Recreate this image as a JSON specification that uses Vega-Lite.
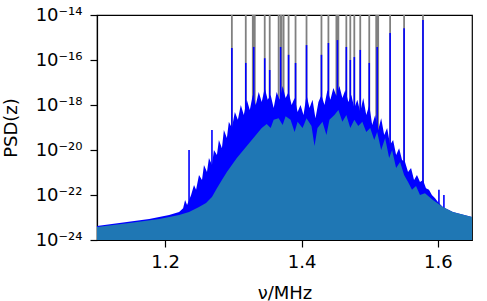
{
  "$schema": "https://vega.github.io/schema/vega-lite/v6.json",
  "width": 375,
  "height": 225,
  "autosize": {"type": "none"},
  "padding": {"left": 97, "top": 15, "right": 15, "bottom": 61},
  "config": {
    "font": "DejaVu Sans",
    "view": {"stroke": "#000000", "strokeWidth": 1.2},
    "axis": {"grid": false, "domainColor": "#000000", "tickColor": "#000000", "labelColor": "#000000", "titleColor": "#000000", "labelFont": "DejaVu Sans", "titleFont": "DejaVu Sans", "labelFontSize": 18, "titleFontSize": 18, "titleFontWeight": "normal", "tickSize": 7, "tickWidth": 1.2, "domainWidth": 1.2}
  },
  "datasets": {
    "gspikes": [
      {"nu": 1.2978, "psd": 1e-14}, {"nu": 1.3182, "psd": 1e-14}, {"nu": 1.3285, "psd": 1e-14}, {"nu": 1.3299, "psd": 1e-14}, {"nu": 1.3314, "psd": 1e-14}, {"nu": 1.3460, "psd": 1e-14}, {"nu": 1.3533, "psd": 1e-14}, {"nu": 1.3664, "psd": 1e-14}, {"nu": 1.3693, "psd": 1e-14}, {"nu": 1.3708, "psd": 1e-14}, {"nu": 1.3737, "psd": 1e-14}, {"nu": 1.3810, "psd": 1e-14}, {"nu": 1.3912, "psd": 1e-14}, {"nu": 1.4073, "psd": 1e-14}, {"nu": 1.4292, "psd": 1e-14}, {"nu": 1.4394, "psd": 1e-14}, {"nu": 1.4511, "psd": 1e-14}, {"nu": 1.4526, "psd": 1e-14}, {"nu": 1.4540, "psd": 1e-14}, {"nu": 1.4657, "psd": 1e-14}, {"nu": 1.4715, "psd": 1e-14}, {"nu": 1.4774, "psd": 1e-14}, {"nu": 1.4861, "psd": 1e-14}, {"nu": 1.4993, "psd": 1e-14}, {"nu": 1.5095, "psd": 1e-14}, {"nu": 1.5109, "psd": 1e-14}, {"nu": 1.5124, "psd": 1e-14}, {"nu": 1.5299, "psd": 1e-14}, {"nu": 1.5504, "psd": 1e-14}, {"nu": 1.5781, "psd": 1e-14}
    ],
    "bspikes": [
      {"nu": 1.2350, "psd": 1e-20}, {"nu": 1.2686, "psd": 7.7e-20}, {"nu": 1.2978, "psd": 3.4e-16}, {"nu": 1.3182, "psd": 7.4e-17}, {"nu": 1.3299, "psd": 3.8e-16}, {"nu": 1.3460, "psd": 1.2e-16}, {"nu": 1.3533, "psd": 3.6e-17}, {"nu": 1.3693, "psd": 3.8e-16}, {"nu": 1.3810, "psd": 1.7e-16}, {"nu": 1.3912, "psd": 7.4e-17}, {"nu": 1.4073, "psd": 4.6e-16}, {"nu": 1.4292, "psd": 1.7e-16}, {"nu": 1.4394, "psd": 5.7e-16}, {"nu": 1.4526, "psd": 7.7e-16}, {"nu": 1.4657, "psd": 3.8e-16}, {"nu": 1.4715, "psd": 1e-16}, {"nu": 1.4774, "psd": 1.35e-16}, {"nu": 1.4861, "psd": 2.8e-16}, {"nu": 1.4993, "psd": 7.4e-17}, {"nu": 1.5109, "psd": 3.8e-16}, {"nu": 1.5299, "psd": 1.6e-15}, {"nu": 1.5504, "psd": 2.6e-15}, {"nu": 1.5781, "psd": 6e-15}, {"nu": 1.6015, "psd": 1.7e-22}, {"nu": 1.6088, "psd": 1e-22}
    ],
    "noise": [
      {"nu": 1.100, "psd": 4.2e-24}, {"nu": 1.1766, "psd": 8.6e-24}, {"nu": 1.2058, "psd": 1.3e-23}, {"nu": 1.2204, "psd": 1.75e-23},
      {"nu": 1.2263, "psd": 2.6e-23}, {"nu": 1.2292, "psd": 6.0e-23}, {"nu": 1.2321, "psd": 3.6e-23}, {"nu": 1.2380, "psd": 1.0e-22}, {"nu": 1.2423, "psd": 2.8e-22}, {"nu": 1.2453, "psd": 1.7e-22},
      {"nu": 1.2496, "psd": 7.7e-22}, {"nu": 1.2540, "psd": 4.6e-22}, {"nu": 1.2569, "psd": 2.15e-21}, {"nu": 1.2613, "psd": 1.05e-21}, {"nu": 1.2642, "psd": 4.4e-21}, {"nu": 1.2686, "psd": 2.15e-21},
      {"nu": 1.2715, "psd": 1.0e-20}, {"nu": 1.2759, "psd": 6.0e-21}, {"nu": 1.2788, "psd": 2.8e-20}, {"nu": 1.2832, "psd": 1.2e-20}, {"nu": 1.2861, "psd": 7.7e-20}, {"nu": 1.2905, "psd": 3.4e-20},
      {"nu": 1.2934, "psd": 1.8e-19}, {"nu": 1.2978, "psd": 9.5e-20}, {"nu": 1.3022, "psd": 4.9e-19}, {"nu": 1.3066, "psd": 2.2e-19}, {"nu": 1.3109, "psd": 1.0e-18}, {"nu": 1.3153, "psd": 3.6e-19},
      {"nu": 1.3197, "psd": 1.7e-18}, {"nu": 1.3241, "psd": 6.0e-19}, {"nu": 1.3285, "psd": 2.8e-18}, {"nu": 1.3328, "psd": 1.0e-18}, {"nu": 1.3372, "psd": 3.8e-18}, {"nu": 1.3416, "psd": 1.36e-18},
      {"nu": 1.3460, "psd": 5.7e-18}, {"nu": 1.3504, "psd": 1.7e-18}, {"nu": 1.3547, "psd": 2.8e-18}, {"nu": 1.3591, "psd": 7.4e-19}, {"nu": 1.3635, "psd": 3.8e-18}, {"nu": 1.3679, "psd": 1.7e-18},
      {"nu": 1.3723, "psd": 7.0e-18}, {"nu": 1.3766, "psd": 2.05e-18}, {"nu": 1.3810, "psd": 3.8e-18}, {"nu": 1.3854, "psd": 1.0e-18}, {"nu": 1.3898, "psd": 2.05e-18}, {"nu": 1.3942, "psd": 4.9e-19},
      {"nu": 1.3985, "psd": 1.0e-18}, {"nu": 1.4029, "psd": 3.6e-19}, {"nu": 1.4073, "psd": 2.8e-18}, {"nu": 1.4117, "psd": 7.4e-19}, {"nu": 1.4161, "psd": 1.7e-18}, {"nu": 1.4204, "psd": 2.6e-19},
      {"nu": 1.4248, "psd": 1.36e-18}, {"nu": 1.4292, "psd": 2.8e-18}, {"nu": 1.4336, "psd": 1.0e-18}, {"nu": 1.4380, "psd": 4.6e-18}, {"nu": 1.4423, "psd": 1.7e-18}, {"nu": 1.4467, "psd": 5.7e-18},
      {"nu": 1.4511, "psd": 2.5e-18}, {"nu": 1.4555, "psd": 7.0e-18}, {"nu": 1.4599, "psd": 2.05e-18}, {"nu": 1.4642, "psd": 4.6e-18}, {"nu": 1.4686, "psd": 1.36e-18}, {"nu": 1.4730, "psd": 2.8e-18},
      {"nu": 1.4774, "psd": 7.4e-19}, {"nu": 1.4818, "psd": 1.7e-18}, {"nu": 1.4861, "psd": 4.9e-19}, {"nu": 1.4905, "psd": 2.05e-18}, {"nu": 1.4949, "psd": 3.6e-19}, {"nu": 1.4993, "psd": 1.0e-18},
      {"nu": 1.5036, "psd": 1.3e-19}, {"nu": 1.5080, "psd": 3.6e-19}, {"nu": 1.5124, "psd": 7.7e-20}, {"nu": 1.5168, "psd": 2.6e-19}, {"nu": 1.5212, "psd": 4.6e-20}, {"nu": 1.5255, "psd": 9.5e-20},
      {"nu": 1.5299, "psd": 1.7e-20}, {"nu": 1.5343, "psd": 2.8e-20}, {"nu": 1.5387, "psd": 6.0e-21}, {"nu": 1.5431, "psd": 1.2e-20}, {"nu": 1.5474, "psd": 3.6e-21}, {"nu": 1.5518, "psd": 2.9e-21},
      {"nu": 1.5562, "psd": 1.05e-21}, {"nu": 1.5606, "psd": 1.6e-21}, {"nu": 1.5650, "psd": 4.6e-22}, {"nu": 1.5693, "psd": 7.7e-22}, {"nu": 1.5737, "psd": 3.8e-22}, {"nu": 1.5781, "psd": 4.6e-22},
      {"nu": 1.5825, "psd": 2.0e-22}, {"nu": 1.5869, "psd": 1.7e-22}, {"nu": 1.5912, "psd": 1.0e-22}, {"nu": 1.5956, "psd": 7.4e-23}, {"nu": 1.6000, "psd": 4.9e-23}, {"nu": 1.6073, "psd": 2.9e-23},
      {"nu": 1.6219, "psd": 1.75e-23}, {"nu": 1.65, "psd": 1.05e-23}
    ],
    "fill": [
      {"nu": 1.100, "psd": 3.8e-24}, {"nu": 1.1474, "psd": 5.7e-24}, {"nu": 1.1912, "psd": 8.6e-24}, {"nu": 1.2204, "psd": 1.3e-23}, {"nu": 1.2350, "psd": 1.75e-23}, {"nu": 1.2496, "psd": 2.9e-23},
      {"nu": 1.2599, "psd": 4.4e-23}, {"nu": 1.2686, "psd": 8.1e-23}, {"nu": 1.2759, "psd": 2.0e-22}, {"nu": 1.2832, "psd": 4.6e-22}, {"nu": 1.2905, "psd": 1.05e-21}, {"nu": 1.2978, "psd": 2.15e-21},
      {"nu": 1.3051, "psd": 4.4e-21}, {"nu": 1.3124, "psd": 8.1e-21}, {"nu": 1.3197, "psd": 1.5e-20}, {"nu": 1.3270, "psd": 2.8e-20}, {"nu": 1.3343, "psd": 5.1e-20}, {"nu": 1.3416, "psd": 9.5e-20},
      {"nu": 1.3489, "psd": 1.43e-19}, {"nu": 1.3547, "psd": 9.5e-20}, {"nu": 1.3591, "psd": 2.2e-19}, {"nu": 1.3664, "psd": 2.6e-19}, {"nu": 1.3723, "psd": 1.3e-19}, {"nu": 1.3766, "psd": 3.2e-19},
      {"nu": 1.3839, "psd": 2.2e-19}, {"nu": 1.3898, "psd": 6.3e-20}, {"nu": 1.3942, "psd": 1.8e-19}, {"nu": 1.4015, "psd": 9.5e-20}, {"nu": 1.4073, "psd": 2.6e-19}, {"nu": 1.4146, "psd": 1.17e-19},
      {"nu": 1.4190, "psd": 1.5e-20}, {"nu": 1.4234, "psd": 9.5e-20}, {"nu": 1.4307, "psd": 1.8e-19}, {"nu": 1.4365, "psd": 4.6e-20}, {"nu": 1.4409, "psd": 2.2e-19}, {"nu": 1.4482, "psd": 3.6e-19},
      {"nu": 1.4540, "psd": 6.0e-19}, {"nu": 1.4599, "psd": 1.8e-19}, {"nu": 1.4657, "psd": 3.6e-19}, {"nu": 1.4715, "psd": 9.5e-20}, {"nu": 1.4774, "psd": 2.2e-19}, {"nu": 1.4832, "psd": 1.17e-19},
      {"nu": 1.4891, "psd": 1.8e-19}, {"nu": 1.4949, "psd": 6.3e-20}, {"nu": 1.5007, "psd": 9.5e-20}, {"nu": 1.5066, "psd": 2.8e-20}, {"nu": 1.5109, "psd": 6.3e-20}, {"nu": 1.5168, "psd": 1.0e-20},
      {"nu": 1.5226, "psd": 3.4e-20}, {"nu": 1.5285, "psd": 4.4e-21}, {"nu": 1.5328, "psd": 1.0e-20}, {"nu": 1.5387, "psd": 1.6e-21}, {"nu": 1.5445, "psd": 2.9e-21}, {"nu": 1.5504, "psd": 7.7e-22},
      {"nu": 1.5562, "psd": 3.8e-22}, {"nu": 1.5620, "psd": 1.7e-22}, {"nu": 1.5679, "psd": 2.5e-22}, {"nu": 1.5737, "psd": 1.0e-22}, {"nu": 1.5810, "psd": 1.2e-22}, {"nu": 1.5927, "psd": 6.0e-23},
      {"nu": 1.6073, "psd": 2.9e-23}, {"nu": 1.6219, "psd": 1.75e-23}, {"nu": 1.65, "psd": 1.05e-23}
    ]
  },
  "encoding": {
    "x": {"field": "nu", "type": "quantitative", "scale": {"domain": [1.1, 1.65], "nice": false, "zero": false},
      "axis": {"values": [1.2, 1.4, 1.6], "format": ".1f", "title": "ν/MHz", "labelPadding": 6, "titleY": 58, "titleBaseline": "alphabetic"}},
    "y": {"field": "psd", "type": "quantitative", "scale": {"type": "log", "domain": [1e-24, 1e-14], "nice": false},
      "axis": {"values": [1e-24, 1e-22, 1e-20, 1e-18, 1e-16, 1e-14], "title": "PSD(z)", "labelPadding": 8, "titleX": -81, "titleY": 112.5, "titleAngle": -90, "titleBaseline": "alphabetic", "titleAlign": "center",
        "labelExpr": "datum.value < 1e-23 ? '10⁻²⁴' : datum.value < 1e-21 ? '10⁻²²' : datum.value < 1e-19 ? '10⁻²⁰' : datum.value < 1e-17 ? '10⁻¹⁸' : datum.value < 1e-15 ? '10⁻¹⁶' : '10⁻¹⁴'"}}
  },
  "layer": [
    {
      "data": {"name": "gspikes"},
      "mark": {"type": "rule", "color": "#808080", "strokeWidth": 1.8, "clip": true},
      "encoding": {"y2": {"datum": 1e-24}}
    },
    {
      "data": {"name": "noise"},
      "mark": {"type": "area", "color": "#0000ff", "opacity": 1, "clip": true},
      "encoding": {"y2": {"datum": 1e-24}}
    },
    {
      "data": {"name": "bspikes"},
      "mark": {"type": "rule", "color": "#0000ff", "strokeWidth": 1.6, "clip": true},
      "encoding": {"y2": {"datum": 1e-24}}
    },
    {
      "data": {"name": "fill"},
      "mark": {"type": "area", "color": "#1f77b4", "opacity": 1, "clip": true},
      "encoding": {"y2": {"datum": 1e-24}}
    }
  ]
}
